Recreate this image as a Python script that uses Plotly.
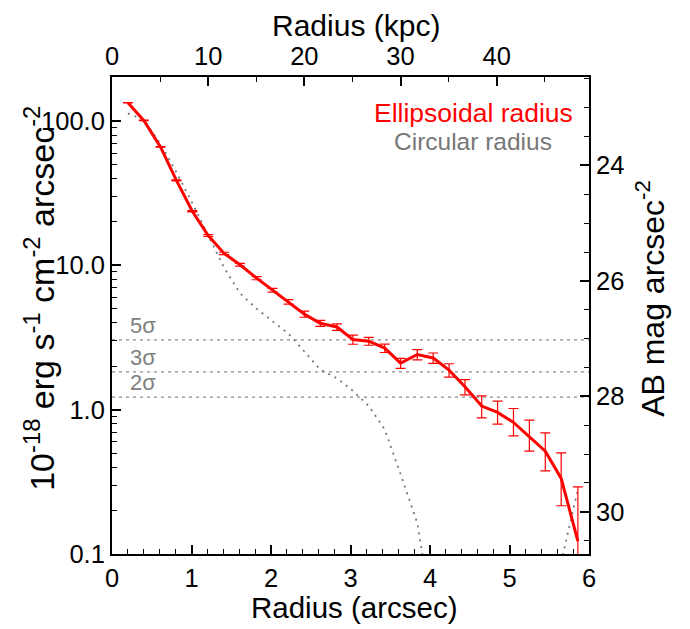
import plotly.graph_objects as go
import math

# ---------------- data ----------------
radius_arcsec = [0.20, 0.40, 0.61, 0.81, 1.01, 1.21, 1.41, 1.61, 1.82, 2.02,
                 2.22, 2.42, 2.62, 2.83, 3.03, 3.23, 3.43, 3.63, 3.84, 4.04,
                 4.24, 4.44, 4.65, 4.85, 5.05, 5.25, 5.45, 5.65, 5.86]

sb_ellipsoidal = [134, 101, 66.1, 38.8, 23.7, 16.1, 12.1, 10.1, 8.15, 6.73,
                  5.58, 4.59, 3.97, 3.74, 3.06, 2.98, 2.67, 2.10, 2.41, 2.28,
                  1.88, 1.44, 1.06, 0.957, 0.817, 0.649, 0.516, 0.334, 0.123]

err_upper = [0.30, 0.30, 0.30, 0.30, 0.25, 0.25, 0.22, 0.22, 0.20, 0.20,
             0.20, 0.22, 0.19, 0.195, 0.22, 0.185, 0.18, 0.165, 0.20, 0.19,
             0.20, 0.175, 0.187, 0.189, 0.202, 0.197, 0.174, 0.168, 0.169]
err_lower = [0.30, 0.30, 0.30, 0.30, 0.25, 0.25, 0.22, 0.22, 0.20, 0.20,
             0.20, 0.22, 0.19, 0.195, 0.22, 0.185, 0.18, 0.165, 0.20, 0.19,
             0.20, 0.175, 0.183, 0.163, 0.158, 0.133, 0.139, 0.118, 0.169]

sb_circular = [113, 102, 69.5, 44.2, 27.0, 16.2, 9.62, 6.40, 5.00, 4.10,
               3.36, 2.53, 1.89, 1.65, 1.35, 1.06, 0.73, 0.357, 0.164, 0.035,
               None, None, None, None, None, None, None, 0.088, 0.28]

sigma_value = 0.61
sigma_levels = [5, 3, 2]
sigma_labels = ["5σ", "3σ", "2σ"]

x_ticks = [0, 1, 2, 3, 4, 5, 6]
kpc_ticks = [0, 10, 20, 30, 40]
y_ticks = [0.1, 1, 10, 100]
y_ticktext = ["0.1", "1.0", "10.0", "100.0"]
mag_ticks = [24, 26, 28, 30]

KPC_PER_ARCSEC = 8.267
MAG_ZP = 28.23          # AB mag = MAG_ZP - 2.5 log10(SB)
X_RANGE = [0, 6]
LOG_Y_RANGE = [-1, 2.305]

legend_items = [("Ellipsoidal radius", "#ff0000", 26.5),
                ("Circular radius", "#777777", 24.5)]

# ---------------- figure ----------------
FONT = "Liberation Sans, Arial, Helvetica, sans-serif"
RED = "#ff0000"
GRAY = "#777777"

fig = go.Figure()

for lvl in sigma_levels:
    fig.add_trace(go.Scatter(
        x=X_RANGE, y=[lvl * sigma_value] * 2, mode="lines",
        line=dict(color="#8a8a8a", width=1.2, dash="3px,4px"),
        hoverinfo="skip", showlegend=False))

fig.add_trace(go.Scatter(
    x=radius_arcsec, y=sb_circular, mode="lines", connectgaps=False,
    line=dict(color=GRAY, width=1.8, dash="2px,5px"),
    name="Circular radius", showlegend=False))

fig.add_trace(go.Scatter(
    x=radius_arcsec, y=sb_ellipsoidal, mode="lines",
    line=dict(color=RED, width=3),
    error_y=dict(type="data", symmetric=False, array=err_upper,
                 arrayminus=err_lower, color=RED, thickness=1.2, width=5),
    name="Ellipsoidal radius", showlegend=False))

# dummy trace to activate secondary axes
fig.add_trace(go.Scatter(x=[None], y=[None], xaxis="x2", yaxis="y2",
                         showlegend=False, hoverinfo="skip"))

axis_common = dict(showline=True, linewidth=2, linecolor="black",
                   showgrid=False, zeroline=False, ticks="inside",
                   tickcolor="black", tickwidth=1.5, ticklen=9,
                   automargin=False,
                   tickfont=dict(size=25.5, family=FONT, color="black"))
minor_common = dict(ticks="inside", ticklen=5, tickwidth=1.2, tickcolor="black",
                    showgrid=False)

minor_log = [m * 10 ** e for e in (-1, 0, 1, 2) for m in range(2, 10)]

# the page body adds an 8px offset, so the figure is 8px smaller than the window
fig.update_layout(
    width=682, height=621,
    margin=dict(l=104, r=101, t=69, b=75, autoexpand=False),
    plot_bgcolor="white", paper_bgcolor="white",
    showlegend=False,
    font=dict(family=FONT, color="black", size=25),
    xaxis=dict(range=X_RANGE, tickmode="array", tickvals=x_ticks,
               minor=dict(dtick=0.2, tick0=0, **minor_common),
               **axis_common),
    xaxis2=dict(overlaying="x", side="top", anchor="y",
                range=[X_RANGE[0] * KPC_PER_ARCSEC, X_RANGE[1] * KPC_PER_ARCSEC],
                tickmode="array", tickvals=kpc_ticks,
                minor=dict(dtick=5, tick0=0, **minor_common),
                **axis_common),
    yaxis=dict(type="log", range=LOG_Y_RANGE, tickmode="array",
               tickvals=y_ticks, ticktext=y_ticktext,
               minor=dict(tickmode="array", tickvals=minor_log, **minor_common),
               **axis_common),
    yaxis2=dict(overlaying="y", side="right", anchor="x",
                range=[MAG_ZP - 2.5 * LOG_Y_RANGE[0], MAG_ZP - 2.5 * LOG_Y_RANGE[1]],
                tickmode="array", tickvals=mag_ticks,
                minor=dict(dtick=0.5, tick0=0, **minor_common),
                **axis_common),
)

annotations = [
    dict(text="Radius (arcsec)", xref="paper", yref="paper", x=0.509, y=-0.113,
         xanchor="center", yanchor="middle", showarrow=False,
         font=dict(size=29.5, family=FONT, color="black")),
    dict(text="Radius (kpc)", xref="paper", yref="paper", x=0.511, y=1.107,
         xanchor="center", yanchor="middle", showarrow=False,
         font=dict(size=30, family=FONT, color="black")),
    dict(text="10<sup>-18</sup> erg s<sup>-1</sup> cm<sup>-2</sup> arcsec<sup>-2</sup>",
         xref="paper", yref="paper", x=-0.151, y=0.537, textangle=-90,
         xanchor="center", yanchor="middle", showarrow=False,
         font=dict(size=34, family=FONT, color="black")),
    dict(text="AB mag arcsec<sup>-2</sup>",
         xref="paper", yref="paper", x=1.128, y=0.535, textangle=-90,
         xanchor="center", yanchor="middle", showarrow=False,
         font=dict(size=32, family=FONT, color="black")),
]
for i, (txt, col, fs) in enumerate(legend_items):
    annotations.append(dict(text=txt, xref="paper", yref="paper",
                            x=0.7576, y=0.924 - 0.06 * i,
                            xanchor="center", yanchor="middle", showarrow=False,
                            font=dict(size=fs, family=FONT, color=col)))
for lvl, lab in zip(sigma_levels, sigma_labels):
    annotations.append(dict(text=lab, xref="x", yref="y",
                            x=0.2, y=math.log10(lvl * sigma_value),
                            xanchor="left", yanchor="bottom", showarrow=False,
                            font=dict(size=22, family=FONT, color="#808080")))
fig.update_layout(annotations=annotations)

fig.write_html("out.html")
